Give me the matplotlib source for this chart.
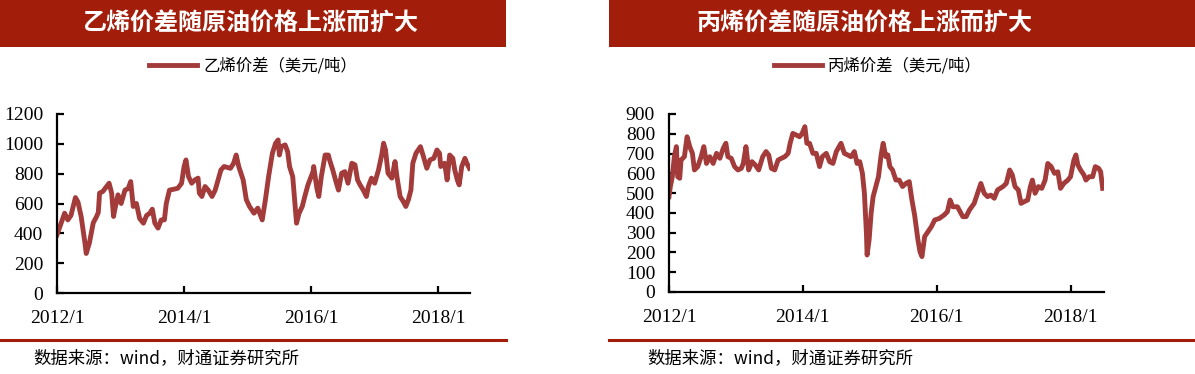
import matplotlib
matplotlib.use('Agg')
import matplotlib.pyplot as plt
from matplotlib.patches import Rectangle
from matplotlib.lines import Line2D

plt.rcParams['font.family'] = ['Noto Sans CJK SC', 'DejaVu Sans']

# 乙烯价差 (美元/吨), x in fractional years
eth_x = [2012.00, 2012.05, 2012.12, 2012.17, 2012.22, 2012.29, 2012.33, 2012.38, 2012.44, 2012.46,
         2012.51, 2012.57, 2012.62, 2012.65, 2012.67, 2012.72, 2012.78, 2012.82, 2012.86, 2012.89,
         2012.91, 2012.96, 2013.01, 2013.07, 2013.12, 2013.16, 2013.20, 2013.25, 2013.30, 2013.36,
         2013.41, 2013.46, 2013.50, 2013.54, 2013.59, 2013.64, 2013.69, 2013.72, 2013.77, 2013.83,
         2013.90, 2013.96, 2014.00, 2014.03, 2014.07, 2014.12, 2014.17, 2014.22, 2014.24, 2014.28,
         2014.33, 2014.38, 2014.44, 2014.49, 2014.58, 2014.63, 2014.73, 2014.78, 2014.82, 2014.86,
         2014.93, 2014.98, 2015.03, 2015.10, 2015.16, 2015.23, 2015.28, 2015.33, 2015.39, 2015.44,
         2015.48, 2015.50, 2015.53, 2015.59, 2015.63, 2015.66, 2015.71, 2015.74, 2015.77, 2015.81,
         2015.86, 2015.90, 2015.95, 2016.00, 2016.03, 2016.04, 2016.09, 2016.12, 2016.16, 2016.22,
         2016.27, 2016.29, 2016.34, 2016.39, 2016.43, 2016.48, 2016.53, 2016.58, 2016.64, 2016.69,
         2016.73, 2016.77, 2016.82, 2016.87, 2016.90, 2016.95, 2017.00, 2017.06, 2017.11, 2017.14,
         2017.17, 2017.21, 2017.27, 2017.32, 2017.35, 2017.40, 2017.45, 2017.49, 2017.53, 2017.57,
         2017.60, 2017.65, 2017.72, 2017.76, 2017.82, 2017.87, 2017.93, 2017.98, 2018.02, 2018.04,
         2018.08, 2018.10, 2018.14, 2018.18, 2018.23, 2018.26, 2018.30, 2018.33, 2018.37, 2018.42,
         2018.45, 2018.49]
eth_y = [390, 450, 535, 490, 520, 640, 610, 513, 335, 265,
         335, 470, 510, 540, 670, 680, 714, 736, 670, 513,
         560, 658, 600, 690, 700, 747, 580, 600, 500, 468,
         520, 535, 562, 468, 435, 490, 490, 600, 690, 695,
         702, 735, 848, 892, 780, 736, 758, 770, 670, 647,
         714, 690, 647, 690, 825, 848, 836, 870, 925, 848,
         758, 625, 580, 535, 569, 490, 625, 780, 937, 1004,
         1026, 925, 981, 993, 948, 848, 780, 625, 468, 535,
         580, 647, 725, 780, 814, 848, 702, 647, 780, 925,
         925, 892, 825, 747, 690, 803, 814, 736, 870, 859,
         758, 725, 690, 647, 714, 770, 736, 825, 925, 1004,
         959, 803, 770, 881, 780, 647, 613, 580, 625, 690,
         870, 937, 981, 925, 836, 892, 903, 959, 937, 848,
         859, 870, 758, 925, 903, 825, 758, 725, 848, 903,
         870, 836]

# 丙烯价差 (美元/吨)
pro_x = [2012.00, 2012.02, 2012.05, 2012.08, 2012.11, 2012.13, 2012.16, 2012.18, 2012.23, 2012.27,
         2012.31, 2012.35, 2012.38, 2012.43, 2012.48, 2012.52, 2012.56, 2012.61, 2012.66, 2012.71,
         2012.76, 2012.81, 2012.85, 2012.88, 2012.93, 2012.98, 2013.03, 2013.08, 2013.11, 2013.15,
         2013.19, 2013.24, 2013.29, 2013.34, 2013.40, 2013.45, 2013.49, 2013.53, 2013.58, 2013.63,
         2013.68, 2013.73, 2013.78, 2013.81, 2013.85, 2013.90, 2013.95, 2013.99, 2014.03, 2014.06,
         2014.10, 2014.15, 2014.20, 2014.25, 2014.29, 2014.35, 2014.40, 2014.45, 2014.50, 2014.57,
         2014.62, 2014.67, 2014.72, 2014.77, 2014.81, 2014.85, 2014.89, 2014.92, 2014.95, 2014.96,
         2014.99, 2015.02, 2015.05, 2015.09, 2015.13, 2015.17, 2015.20, 2015.24, 2015.27, 2015.30,
         2015.34, 2015.39, 2015.44, 2015.49, 2015.54, 2015.59, 2015.63, 2015.67, 2015.72, 2015.75,
         2015.78, 2015.82, 2015.87, 2015.92, 2015.97, 2016.04, 2016.11, 2016.16, 2016.20, 2016.24,
         2016.31, 2016.39, 2016.44, 2016.49, 2016.56, 2016.61, 2016.66, 2016.71, 2016.76, 2016.81,
         2016.86, 2016.91, 2016.99, 2017.04, 2017.09, 2017.13, 2017.17, 2017.22, 2017.26, 2017.31,
         2017.36, 2017.40, 2017.43, 2017.47, 2017.52, 2017.57, 2017.62, 2017.66, 2017.71, 2017.76,
         2017.81, 2017.85, 2017.90, 2017.96, 2018.00, 2018.05, 2018.08, 2018.11, 2018.15, 2018.20,
         2018.23, 2018.28, 2018.33, 2018.37, 2018.42, 2018.45, 2018.48]
pro_y = [482, 533, 583, 684, 735, 583, 575, 667, 684, 785,
         735, 701, 617, 634, 684, 735, 650, 684, 650, 701,
         676, 726, 752, 684, 676, 634, 617, 625, 650, 735,
         617, 659, 642, 617, 684, 710, 693, 625, 617, 667,
         676, 684, 701, 752, 802, 794, 785, 802, 836, 752,
         752, 701, 701, 634, 684, 701, 659, 650, 710, 752,
         701, 693, 684, 710, 650, 659, 600, 499, 297, 187,
         263, 398, 482, 533, 583, 693, 752, 684, 693, 634,
         617, 566, 566, 533, 549, 558, 465, 389, 263, 204,
         179, 280, 305, 330, 364, 372, 389, 406, 465, 431,
         431, 381, 381, 415, 448, 499, 549, 499, 482, 490,
         474, 516, 533, 549, 617, 592, 533, 516, 448, 457,
         465, 533, 566, 499, 533, 524, 566, 650, 634, 600,
         608, 524, 549, 566, 583, 667, 693, 642, 617, 592,
         566, 583, 583, 634, 625, 608, 524]

xtick_pos = [2012, 2014, 2016, 2018]
xtick_lab = ['2012/1', '2014/1', '2016/1', '2018/1']

red_bar = '#A21E0B'
line_c = '#A33B3B'

fig = plt.figure(figsize=(11.95, 3.74), dpi=100)

panels = [
    dict(x=eth_x, y=eth_y, title='乙烯价差随原油价格上涨而扩大', label='乙烯价差（美元/吨）',
         rect=[57/1195, 81/374, 413/1195, 179/374], ylim=(0, 1200), yticks=range(0, 1201, 200),
         bar=(0, 506), tcx=250, lcx=253, srcx=33),
    dict(x=pro_x, y=pro_y, title='丙烯价差随原油价格上涨而扩大', label='丙烯价差（美元/吨）',
         rect=[669/1195, 82/374, 435/1195, 178/374], ylim=(0, 900), yticks=range(0, 901, 100),
         bar=(609, 1195), tcx=864, lcx=878, srcx=647),
]

for p in panels:
    ax = fig.add_axes(p['rect'])
    ax.plot(p['x'], p['y'], color=line_c, lw=3.5, label=p['label'], solid_joinstyle='round')
    ax.set_xlim(2012, 2018.5)
    ax.set_ylim(*p['ylim'])
    ax.set_yticks(list(p['yticks']))
    ax.set_xticks(xtick_pos)
    ax.set_xticklabels(xtick_lab)
    for s in ['top', 'right']:
        ax.spines[s].set_visible(False)
    for s in ['left', 'bottom']:
        ax.spines[s].set_linewidth(1.6)
    ax.tick_params(direction='in', length=5, width=1.6)
    ax.tick_params(axis='y', pad=10)
    ax.tick_params(axis='x', pad=12)
    for t in ax.get_xticklabels() + ax.get_yticklabels():
        t.set_fontfamily('Liberation Serif')
        t.set_fontsize(14)
    ax.legend(loc='center', bbox_to_anchor=(p['lcx'] / 1195, 1 - 66 / 374),
              bbox_transform=fig.transFigure, frameon=False, fontsize=11.8,
              handlelength=2.9, handletextpad=0.4)

    x0, x1 = p['bar']
    fig.add_artist(Rectangle((x0 / 1195, 1 - 47 / 374), (x1 - x0) / 1195, 47 / 374,
                             transform=fig.transFigure, color=red_bar, lw=0))
    fig.text(p['tcx'] / 1195, 1 - 24 / 374, p['title'], color='white', fontsize=17.3,
             fontweight='bold', ha='center', va='center')
    fig.add_artist(Line2D([x0 / 1195, x1 / 1195], [1 - 340 / 374] * 2,
                          transform=fig.transFigure, color=red_bar, lw=2.2))
    fig.text(p['srcx'] / 1195, 1 - 358 / 374, '数据来源：wind，财通证券研究所',
             fontsize=12.5, ha='left', va='center')

fig.savefig('out.png', dpi=100)
